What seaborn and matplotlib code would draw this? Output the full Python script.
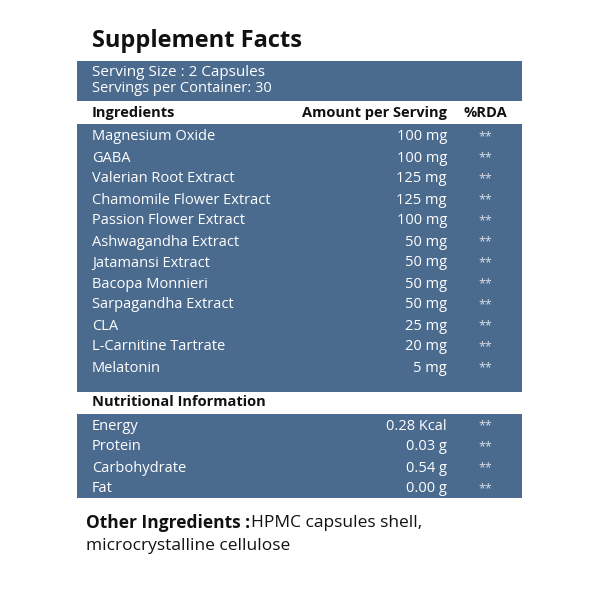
import matplotlib
matplotlib.use("Agg")
import matplotlib.pyplot as plt
import seaborn as sns

sns.set_theme(style="white")
plt.rcParams['font.family'] = ['Open Sans', 'DejaVu Sans']

title = "Supplement Facts"
serving = ["Serving Size : 2 Capsules", "Servings per Container: 30"]
headers = ["Ingredients", "Amount per Serving", "%RDA"]
ingredients = ["Magnesium Oxide", "GABA", "Valerian Root Extract", "Chamomile Flower Extract",
               "Passion Flower Extract", "Ashwagandha Extract", "Jatamansi Extract", "Bacopa Monnieri",
               "Sarpagandha Extract", "CLA", "L-Carnitine Tartrate", "Melatonin"]
amounts = ["100 mg", "100 mg", "125 mg", "125 mg", "100 mg", "50 mg", "50 mg", "50 mg",
           "50 mg", "25 mg", "20 mg", "5 mg"]
nutr_header = "Nutritional Information"
nutrients = ["Energy", "Protein", "Carbohydrate", "Fat"]
nutr_amounts = ["0.28 Kcal", "0.03 g", "0.54 g", "0.00 g"]
rda = "**"
other_bold = "Other Ingredients : "
other_text = ["HPMC capsules shell,", "microcrystalline cellulose"]

BLUE = "#4a6a8e"
fig = plt.figure(figsize=(6, 6), dpi=100)
ax = fig.add_axes([0, 0, 1, 1])
ax.set_xlim(0, 600); ax.set_ylim(600, 0); ax.axis("off")

L, R = 77, 522
def block(y0, y1):
    ax.add_patch(plt.Rectangle((L, y0), R - L, y1 - y0, color=BLUE, lw=0))

ax.text(92, 41, title, fontsize=17, fontweight="bold", color="#111", va="center")
block(61, 101)
ax.text(92, 72, serving[0], fontsize=11, color="white", va="center")
ax.text(92, 89, serving[1], fontsize=10.5, color="white", va="center")
ax.text(92, 113, headers[0], fontsize=10.5, fontweight="bold", color="#111", va="center")
ax.text(447, 113, headers[1], fontsize=10.5, fontweight="bold", color="#111", va="center", ha="right")
ax.text(485, 113, headers[2], fontsize=10.5, fontweight="bold", color="#111", va="center", ha="center")

block(124, 392)
for i, (n, a) in enumerate(zip(ingredients, amounts)):
    y = 137 + i * 21
    ax.text(92, y, n, fontsize=10.5, color="white", va="center")
    ax.text(447, y, a, fontsize=10.5, color="white", va="center", ha="right")
    ax.text(485, y, rda, fontsize=9, color="#d8dee8", va="center", ha="center")

ax.text(92, 402, nutr_header, fontsize=10.5, fontweight="bold", color="#111", va="center")
block(414, 498)
for i, (n, a) in enumerate(zip(nutrients, nutr_amounts)):
    y = 426 + i * 21
    ax.text(92, y, n, fontsize=10.5, color="white", va="center")
    ax.text(447, y, a, fontsize=10.5, color="white", va="center", ha="right")
    ax.text(485, y, rda, fontsize=9, color="#d8dee8", va="center", ha="center")

t = ax.text(86, 523, other_bold, fontsize=12.5, fontweight="bold", color="#111", va="center")
fig.canvas.draw()
bb = t.get_window_extent()
x_end = bb.x1
ax.text(x_end - 4, 523, other_text[0], fontsize=12.5, color="#111", va="center",
        transform=matplotlib.transforms.blended_transform_factory(matplotlib.transforms.IdentityTransform(), ax.transData))
ax.text(86, 546, other_text[1], fontsize=12.5, color="#111", va="center")

fig.savefig("out.png", dpi=100, facecolor="white")
